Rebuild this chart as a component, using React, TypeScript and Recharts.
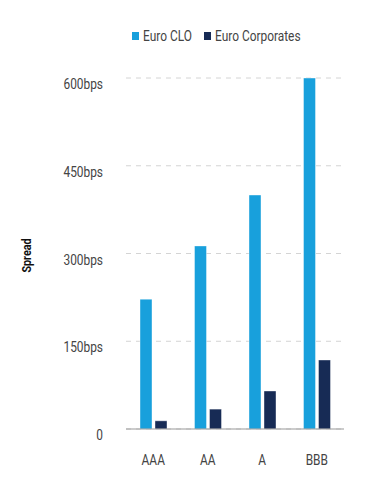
import { Bar, BarChart, CartesianGrid, XAxis, YAxis } from "recharts";

const ratings = ["AAA", "AA", "A", "BBB"];
const euroClo = [222, 313, 400, 600];
const euroCorporates = [14, 34, 65, 118];
const yTicks = [0, 150, 300, 450, 600];

const data = ratings.map((rating, i) => ({
  rating,
  clo: euroClo[i],
  corp: euroCorporates[i],
}));

const CLO_COLOR = "#18a0dc";
const CORP_COLOR = "#172b55";
const FONT = "Roboto, sans-serif";
const TEXT = "#444";
// no Roboto Condensed here, so squeeze Roboto sideways
const SQUEEZE = 0.85;

function YTick({ x, y, payload }: any) {
  const v = payload.value;
  return (
    <g transform={`translate(${x},${y}) scale(${SQUEEZE},1)`}>
      <text x={0} y={11} textAnchor="end" fontSize={14} fill={TEXT} fontFamily={FONT}>
        {v === 0 ? "0" : `${v}bps`}
      </text>
    </g>
  );
}

function XTick({ x, y, payload }: any) {
  return (
    <g transform={`translate(${x},${y}) scale(${SQUEEZE},1)`}>
      <text x={0} y={30} textAnchor="middle" fontSize={14} fill={TEXT} fontFamily={FONT}>
        {payload.value}
      </text>
    </g>
  );
}

function SpreadLabel({ viewBox }: any) {
  const cx = viewBox.x + 31;
  const cy = viewBox.y + viewBox.height / 2 + 2;
  return (
    <g transform={`translate(${cx},${cy}) rotate(-90) scale(0.83,1)`}>
      <text x={0} y={0} textAnchor="middle" fontSize={13} fontWeight={700} fill="#111" fontFamily={FONT}>
        Spread
      </text>
    </g>
  );
}

function LegendItem({ color, label, left }: { color: string; label: string; left: number }) {
  return (
    <div style={{ position: "absolute", left, top: 28, height: 16, whiteSpace: "nowrap" }}>
      <span
        style={{ position: "absolute", left: 0, top: 4, width: 7, height: 8, background: color }}
      />
      <span
        style={{
          position: "absolute",
          left: 11,
          top: -1,
          fontSize: 14,
          lineHeight: "18px",
          color: TEXT,
          transform: `scaleX(${SQUEEZE})`,
          transformOrigin: "left center",
        }}
      >
        {label}
      </span>
    </div>
  );
}

export default function App() {
  return (
    <div style={{ position: "absolute", left: 0, top: 0, width: 368, height: 480, fontFamily: FONT }}>
      <LegendItem color={CLO_COLOR} label="Euro CLO" left={132} />
      <LegendItem color={CORP_COLOR} label="Euro Corporates" left={204} />
      <BarChart
        width={368}
        height={480}
        data={data}
        margin={{ top: 78, right: 24, bottom: 0, left: 0 }}
        barGap={3}
        barSize={12}
      >
        <CartesianGrid vertical={false} stroke="#d4d4d4" strokeDasharray="5 5" />
        <XAxis
          dataKey="rating"
          height={51}
          tickLine={false}
          axisLine={{ stroke: "#999" }}
          tickMargin={0}
          tick={<XTick />}
        />
        <YAxis
          width={126}
          domain={[0, 600]}
          ticks={yTicks}
          tickLine={false}
          axisLine={false}
          tickMargin={17}
          tick={<YTick />}
          label={<SpreadLabel />}
        />
        <Bar dataKey="clo" name="Euro CLO" fill={CLO_COLOR} stroke="#ffffff" strokeOpacity={0.4} isAnimationActive={false} />
        <Bar dataKey="corp" name="Euro Corporates" fill={CORP_COLOR} stroke="#ffffff" strokeOpacity={0.4} isAnimationActive={false} />
      </BarChart>
    </div>
  );
}
